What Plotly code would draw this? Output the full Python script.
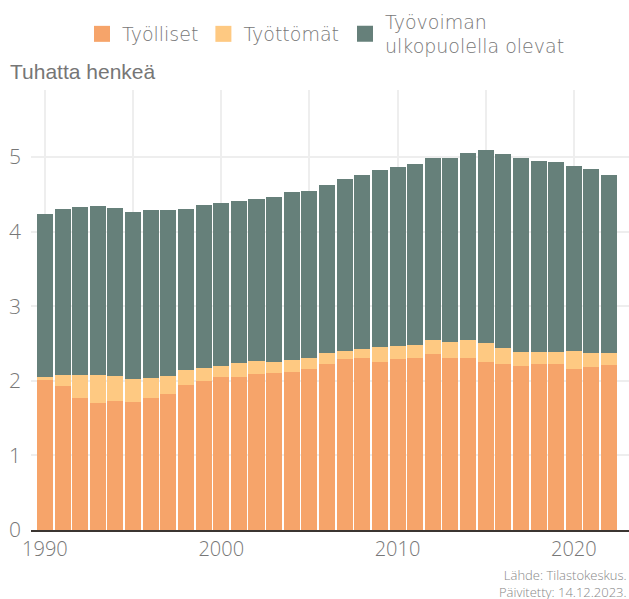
import plotly.graph_objects as go

years = list(range(1990, 2023))
employed = [2.01, 1.93, 1.77, 1.70, 1.73, 1.72, 1.77, 1.82, 1.94, 2.00, 2.05, 2.05, 2.09, 2.11, 2.12, 2.16, 2.23,
            2.29, 2.31, 2.25, 2.29, 2.31, 2.36, 2.31, 2.31, 2.25, 2.23, 2.20, 2.23, 2.23, 2.16, 2.19, 2.21]
unemployed = [0.04, 0.15, 0.31, 0.38, 0.33, 0.30, 0.27, 0.24, 0.21, 0.17, 0.15, 0.19, 0.18, 0.14, 0.16, 0.15, 0.14,
              0.11, 0.12, 0.20, 0.18, 0.17, 0.19, 0.21, 0.24, 0.26, 0.21, 0.19, 0.16, 0.16, 0.24, 0.18, 0.16]
outside = [2.19, 2.22, 2.25, 2.26, 2.26, 2.24, 2.25, 2.23, 2.15, 2.19, 2.18, 2.17, 2.17, 2.21, 2.25, 2.23, 2.26,
           2.31, 2.33, 2.38, 2.40, 2.43, 2.44, 2.47, 2.50, 2.58, 2.60, 2.60, 2.56, 2.54, 2.48, 2.47, 2.39]

series_names = ["Työlliset", "Työttömät", "Työvoiman<br>ulkopuolella olevat"]
colors = ["#F6A46A", "#FEC982", "#66807A"]
legend_groups = ["legend", "legend", "legend2"]
x_tickvals = [1990, 1995, 2000, 2005, 2010, 2015, 2020]
x_ticktext = ["1990", "", "2000", "", "2010", "", "2020"]
y_tickvals = [0, 1, 2, 3, 4, 5]

W, H = 629, 599
FONT = "Open Sans"
PLOT_L, PLOT_T, PLOT_W, PLOT_H = 31, 90, 598, 440

fig = go.Figure()
for name, vals, col, lg in zip(series_names, [employed, unemployed, outside], colors, legend_groups):
    fig.add_trace(go.Bar(x=years, y=vals, name=name, marker=dict(color=col, line=dict(width=0)),
                         showlegend=False))
    fig.add_trace(go.Scatter(x=[None], y=[None], mode="markers", name=name, legend=lg,
                             marker=dict(symbol="square", size=18, color=col)))

legend_font = dict(family="DejaVu Sans", size=19, color="#777777", weight=300)
legend_y = 1.0 + (PLOT_T - 34) / PLOT_H

fig.update_layout(
    width=W, height=H,
    barmode="stack", bargap=0.09,
    plot_bgcolor="white", paper_bgcolor="white",
    margin=dict(l=PLOT_L, r=0, t=PLOT_T, b=H - PLOT_T - PLOT_H),
    font=dict(family=FONT, color="#777777", size=20),
    legend=dict(orientation="h", x=(82 - PLOT_L) / PLOT_W, xanchor="left", y=legend_y, yanchor="middle",
                traceorder="normal", font=legend_font, valign="middle",
                itemclick=False, itemdoubleclick=False),
    legend2=dict(orientation="h", x=(345 - PLOT_L) / PLOT_W, xanchor="left", y=legend_y, yanchor="middle",
                 traceorder="normal", font=legend_font, valign="middle",
                 itemclick=False, itemdoubleclick=False),
    title=dict(text="Tuhatta henkeä", x=10 / W, xanchor="left", xref="container",
               y=1 - 72 / H, yanchor="middle", yref="container",
               font=dict(family="Liberation Sans", size=21, color="#767676")),
    xaxis=dict(range=[1989.21, 2023.13], tickvals=x_tickvals, ticktext=x_ticktext,
               showgrid=True, gridcolor="#eeeeee", gridwidth=2,
               showline=True, linecolor="#3b3531", linewidth=2, zeroline=False,
               ticks="", tickfont=dict(family=FONT, size=20, color="#777777", weight=300)),
    yaxis=dict(range=[0, 5.9], tickvals=y_tickvals, showgrid=True, gridcolor="#eeeeee", gridwidth=2,
               zeroline=False, ticks="", ticklabelstandoff=9,
               tickfont=dict(family=FONT, size=21, color="#777777", weight=300)),
    annotations=[dict(text="Lähde: Tilastokeskus.<br>Päivitetty: 14.12.2023.", xref="paper", yref="paper",
                      x=1, y=-53 / PLOT_H, xanchor="right", yanchor="middle", align="right", showarrow=False,
                      font=dict(family=FONT, size=13, color="#888888", weight=300))],
)

fig.write_html("out.html", config={"displayModeBar": False},
               post_script="document.body.style.margin='0';document.body.style.overflow='hidden';")
